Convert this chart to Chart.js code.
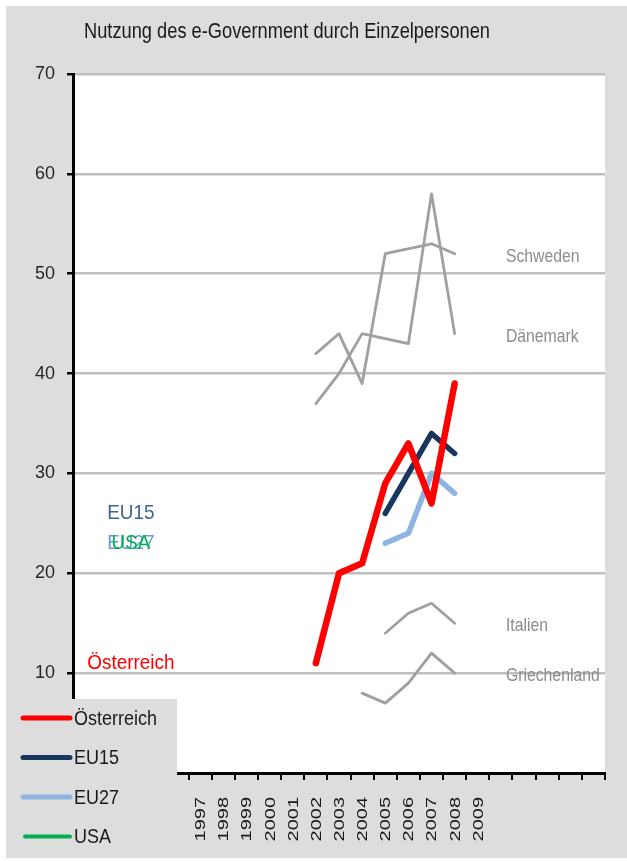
<!DOCTYPE html>
<html>
<head>
<meta charset="utf-8">
<script src="https://cdn.jsdelivr.net/npm/chart.js@4"></script>
<style>
  html, body { margin: 0; padding: 0; background: #fff; }
  canvas { display: block; }
</style>
</head>
<body>
<canvas id="chart" width="627" height="861"></canvas>
<script>
// categories on the x axis (blank slots left and right, like the original sheet)
const years = ['', '', '', '', '', '1997', '1998', '1999', '2000', '2001', '2002', '2003', '2004',
  '2005', '2006', '2007', '2008', '2009', '', '', '', '', ''];
const dataYears = ['2002', '2003', '2004', '2005', '2006', '2007', '2008'];

// values in %, null = no value for that year
const oesterreich = [11, 20, 21, 29, 33, 27, 39];
const eu15 = [null, null, null, 26, null, 34, 32];
const eu27 = [null, null, null, 23, 24, 30, 28];
const usa = [null, null, null, null, null, null, null];
const schweden = [42, 44, 39, 52, null, 53, 52];
const daenemark = [37, 40, 44, null, 43, 58, 44];
const italien = [null, null, null, 14, 16, 17, 15];
const griechenland = [null, null, 8, 7, 9, 12, 10];

const yTicks = [0, 10, 20, 30, 40, 50, 60, 70];

// names written inside the plot, at the value where the series starts / ends
const leftNames = ['Österreich', 'EU15', 'EU27', 'USA'];
const leftValues = [11, 26, 23, 23];
const rightNames = ['Schweden', 'Dänemark', 'Italien', 'Griechenland'];
const rightValues = [52, 44, 15, 10];

const title = 'Nutzung des e-Government durch Einzelpersonen';

const FONT = '"Liberation Sans", Arial, sans-serif';

const colors = {
  oesterreich: '#ff0000',
  eu15: '#17375e',
  eu27: '#8eb4e3',
  usa: '#00b050',
  grau: '#a0a0a0'
};
const labelColors = ['#ff0000', '#3c6494', '#6a9bd8', '#00b050'];

function toCategories(values) {
  return years.map(y => {
    const i = dataYears.indexOf(y);
    return i < 0 ? null : values[i];
  });
}

function serie(label, values, color, width) {
  return {
    label,
    data: toCategories(values),
    borderColor: color,
    backgroundColor: color,
    borderWidth: width,
    pointRadius: 0,
    tension: 0,
    spanGaps: true,
    borderCapStyle: 'round',
    borderJoinStyle: 'round'
  };
}

// the original is squeezed horizontally, so text is drawn narrower
function schmal(ctx, text, x, y, sx) {
  ctx.save();
  ctx.translate(x, y);
  ctx.scale(sx, 1);
  ctx.fillText(text, 0, 0);
  ctx.restore();
}

const hintergrund = {
  id: 'hintergrund',
  beforeDraw(chart) {
    const { ctx, chartArea: a } = chart;
    ctx.save();
    ctx.fillStyle = '#fff';
    ctx.fillRect(0, 0, chart.width, chart.height);
    ctx.fillStyle = '#dddddd';
    ctx.fillRect(6, 6, chart.width - 6, chart.height - 9);
    ctx.fillStyle = '#fff';
    ctx.fillRect(a.left, a.top, a.right - a.left, a.bottom - a.top);
    ctx.fillStyle = '#1a1a1a';
    ctx.font = '22px ' + FONT;
    ctx.textBaseline = 'alphabetic';
    ctx.textAlign = 'left';
    schmal(ctx, title, 84, 38, 0.83);
    ctx.restore();
  }
};

const beschriftung = {
  id: 'beschriftung',
  afterDraw(chart) {
    const { ctx } = chart;
    const x = chart.scales.x, y = chart.scales.y;
    ctx.save();
    ctx.textBaseline = 'middle';

    // year labels, rotated
    ctx.fillStyle = '#1a1a1a';
    ctx.font = '20px ' + FONT;
    ctx.textAlign = 'right';
    years.forEach((yr, i) => {
      if (!yr) return;
      ctx.save();
      ctx.translate(x.getPixelForValue(i) + 1, y.bottom + 24);
      ctx.rotate(-Math.PI / 2);
      ctx.scale(1, 0.72);
      ctx.fillText(yr, 0, 0);
      ctx.restore();
    });

    // right side country names
    ctx.textAlign = 'left';
    ctx.fillStyle = '#8c8c8c';
    ctx.font = '19px ' + FONT;
    rightNames.forEach((n, i) => {
      schmal(ctx, n, x.getPixelForValue(18) + 5, y.getPixelForValue(rightValues[i]) + 3, 0.83);
    });
    // left side names
    ctx.textAlign = 'center';
    ctx.font = '21px ' + FONT;
    leftNames.forEach((n, i) => {
      ctx.fillStyle = labelColors[i];
      schmal(ctx, n, x.getPixelForValue(2), y.getPixelForValue(leftValues[i]), 0.9);
    });

    // legend box over the lower left corner
    ctx.fillStyle = '#dddddd';
    ctx.fillRect(7, 699, 170, chart.height - 699 - 3);
    const legend = chart.data.datasets.slice(0, 4);
    ctx.textAlign = 'left';
    ctx.font = '20px ' + FONT;
    ctx.lineCap = 'round';
    legend.forEach((ds, i) => {
      const ly = 718 + i * 39.5;
      ctx.strokeStyle = ds.borderColor;
      ctx.lineWidth = i === 3 ? 4 : 5;
      ctx.beginPath();
      ctx.moveTo(i === 3 ? 25 : 23, ly);
      ctx.lineTo(70, ly);
      ctx.stroke();
      ctx.fillStyle = '#1a1a1a';
      schmal(ctx, ds.label, 74, ly + 1, 0.9);
    });
    ctx.restore();
  }
};

new Chart(document.getElementById('chart').getContext('2d'), {
  type: 'line',
  data: {
    labels: years,
    datasets: [
      serie('Österreich', oesterreich, colors.oesterreich, 6.5),
      serie('EU15', eu15, colors.eu15, 5.5),
      serie('EU27', eu27, colors.eu27, 5.5),
      serie('USA', usa, colors.usa, 5),
      serie('Schweden', schweden, colors.grau, 2.8),
      serie('Dänemark', daenemark, colors.grau, 2.8),
      serie('Italien', italien, colors.grau, 2.8),
      serie('Griechenland', griechenland, colors.grau, 2.8)
    ]
  },
  options: {
    responsive: false,
    animation: false,
    layout: { padding: { top: 74, right: 22, left: 0, bottom: 0 } },
    plugins: {
      legend: { display: false },
      tooltip: { enabled: false }
    },
    scales: {
      x: {
        offset: true,
        grid: {
          offset: true,
          drawOnChartArea: false,
          color: '#000',
          tickColor: '#000',
          tickLength: 7,
          lineWidth: 2
        },
        border: { color: '#000', width: 3 },
        ticks: { display: false, autoSkip: false },
        afterFit: s => { s.height = 88; }
      },
      y: {
        min: 0,
        max: 70,
        afterBuildTicks: s => { s.ticks = yTicks.map(v => ({ value: v })); },
        ticks: {
          padding: 12,
          color: '#262626',
          font: { family: FONT, size: 18 },
          callback: v => v === 0 ? '' : v
        },
        grid: {
          color: c => c.tick && c.tick.value === 0 ? 'rgba(0,0,0,0)' : '#bfbfbf',
          tickColor: '#000',
          tickLength: 6,
          lineWidth: 2.5
        },
        border: { color: '#000', width: 3 },
        afterFit: s => { s.width = 73; }
      }
    }
  },
  plugins: [hintergrund, beschriftung]
});
</script>
</body>
</html>
